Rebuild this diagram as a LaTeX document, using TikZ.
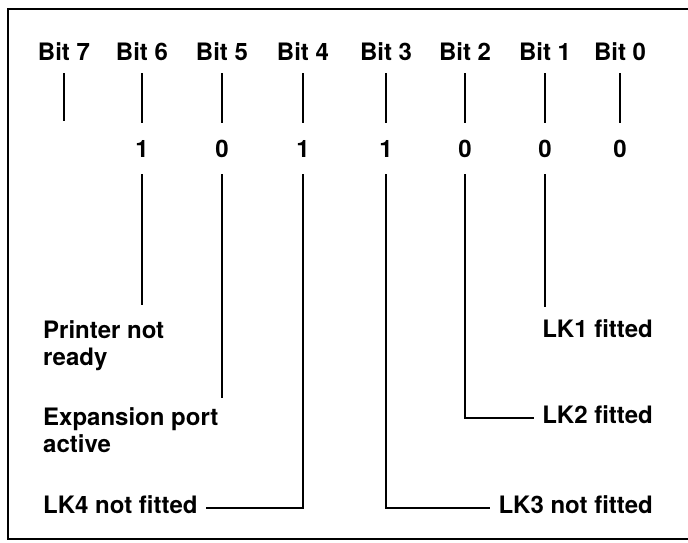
\documentclass[tikz,border=0pt]{standalone}
\usepackage{fontspec}
\setmainfont{TeX Gyre Heros}
\usetikzlibrary{positioning}

\begin{document}
\begin{tikzpicture}[
  x=1pt,y=-1pt,
  font=\fontsize{24}{27}\selectfont\bfseries,
  bitlbl/.style={inner sep=0pt,text height=17pt,text depth=0pt,outer ysep=13pt},
  digit/.style={inner sep=0pt,text height=17pt,text depth=0pt,outer ysep=17pt},
  note/.style={inner sep=0pt,align=left,anchor=north west},
  lk/.style={inner xsep=8pt,inner ysep=0pt,text height=17pt,text depth=6pt},
  ln/.style={line width=2pt}
]
\useasboundingbox (0,0) rectangle (688,542);
\draw[line width=2pt] (690,9) -- (8,9) -- (8,539) -- (690,539);

% bit numbers and register value
\foreach \n/\x in {7/64,6/142,5/222,4/303,3/386,2/465,1/545,0/620}
  \node[bitlbl,anchor=south] (b\n) at (\x,73) {Bit \n};
\coordinate (d7) at (64,121);
\foreach \n/\v in {6/1,5/0,4/1,3/1,2/0,1/0,0/0}
  \node[digit,below=50pt of b\n] (d\n) {\v};
\foreach \n in {7,6,5,4,3,2,1,0}
  {\draw[ln] (b\n) -- (d\n);}

% meanings
\node[note] (prn) at (43,320) {Printer not\\ready};
\node[note] (exp) at (43,407) {Expansion port\\active};
\node[lk,anchor=base west] (lk4) at (35,513) {LK4 not fitted};
\node[lk,anchor=base east] (lk3) at (661,513) {LK3 not fitted};
\node[lk,anchor=base east] (lk2) at (661,423) {LK2 fitted};
\node[lk,anchor=base east] (lk1) at (661,337) {LK1 fitted};

\coordinate (e6) at (142,305);
\coordinate (e5) at (222,398);
\coordinate (e1) at (545,307);
\draw[ln] (d6) -- (e6);
\draw[ln] (d5) -- (e5);
\draw[ln] (d1) -- (e1);
\draw[ln] (d4) |- (lk4);
\draw[ln] (d3) |- (lk3);
\draw[ln] (d2) |- (lk2);
\end{tikzpicture}
\end{document}
